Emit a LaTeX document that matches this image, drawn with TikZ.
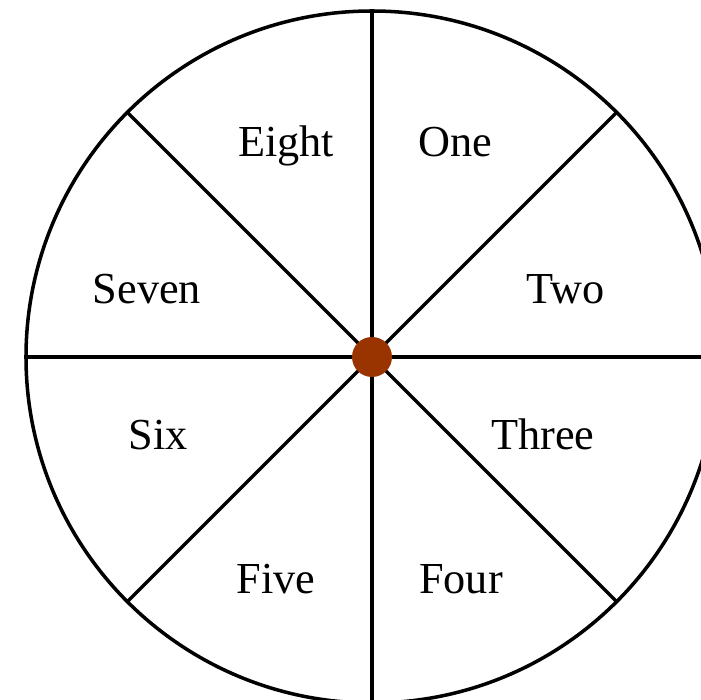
\documentclass[tikz,border=0pt]{standalone}
\usepackage{fontspec}
\setmainfont{Liberation Serif}
\usepackage{tikz}
\definecolor{hubred}{RGB}{153,51,0}

\begin{document}
\begin{tikzpicture}[
  line width=2.5pt,
  sector/.style={anchor=base, font=\fontsize{31.5}{36}\selectfont, inner sep=0pt},
  hub/.style={circle, fill=hubred, draw=none, minimum size=1cm, inner sep=0pt}
]
  \clip (-9.3,-8.575) rectangle (8.225,8.925);
  \coordinate (c) at (0,0);
  \draw (c) circle (8.65);
  % spokes
  \foreach \a in {0,45,...,315}
    \draw (c) -- (\a:8.65);
  \node[hub] (hub) at (c) {};

  \node[sector] (eight) at (-2.15,5.0) {Eight};
  \node[sector] (one) at (2.075,5.0) {One};
  \node[sector] (seven) at (-5.625,1.34) {Seven};
  \node[sector] (two) at (4.85,1.34) {Two};
  \node[sector] (six) at (-5.35,-2.325) {Six};
  \node[sector] (three) at (4.275,-2.325) {Three};
  \node[sector] (five) at (-2.4,-5.9) {Five};
  \node[sector] (four) at (2.225,-5.9) {Four};
\end{tikzpicture}
\end{document}
